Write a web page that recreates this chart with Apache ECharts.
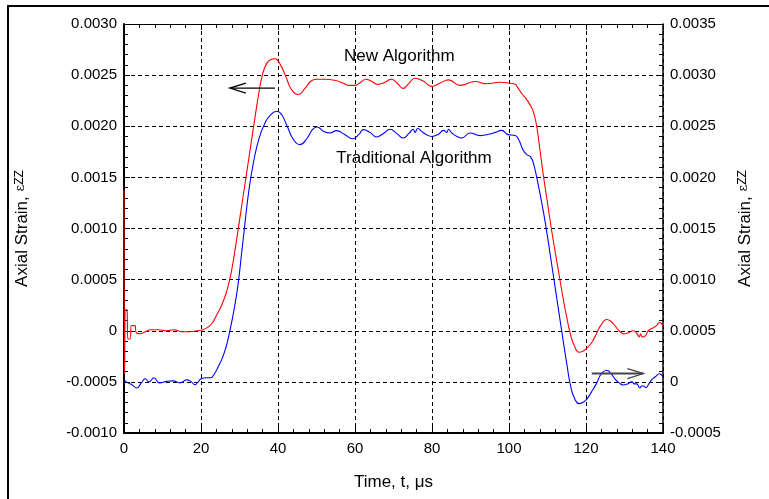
<!DOCTYPE html>
<html>
<head>
<meta charset="utf-8">
<script src="https://cdn.jsdelivr.net/npm/echarts@6/dist/echarts.min.js"></script>
<style>html,body{margin:0;padding:0;background:#fff;}#c{width:769px;height:499px;}</style>
</head>
<body>
<div id="c"></div>
<script>
// Time ticks (µs)
const xTicks = [0, 20, 40, 60, 80, 100, 120, 140];
const leftTicks = [-0.001, -0.0005, 0, 0.0005, 0.001, 0.0015, 0.002, 0.0025, 0.003];
const rightTicks = [-0.0005, 0, 0.0005, 0.001, 0.0015, 0.002, 0.0025, 0.003, 0.0035];

// New Algorithm (left axis): [time, strain]
const newAlgorithm = [
[0,0.00138],[0.15,-0.00042],[0.45,0.00021],[0.8,0.0002],[1.0,-0.00008],[1.6,-0.00008],[1.9,0.00005],[2.8,0.00005],
[3.2,-0.00002],[4.2,-0.00003],[5.5,-0.00001],[7,0.00001],[9,0.00001],[11,0.0],[13,0.00001],[15,-0.00001],[17,-0.00001],
[19,0.0],[20.5,0.00001],[22,0.00004],[23,0.00008],[24,0.00015],[25,0.00022],[26,0.00031],[27,0.00043],[28,0.0006],
[29,0.00083],[30,0.00108],[31,0.00133],[32,0.00158],[33,0.00183],[34,0.00208],[35,0.00232],[36,0.00251],[37,0.00261],
[38,0.00265],[39.2,0.00266],[40.5,0.00261],[42,0.00249],[43.5,0.00236],[45.3,0.00231],[47,0.00237],[48.5,0.00244],
[50,0.00246],[52,0.00246],[55,0.002447],[57,0.00242],[58.5,0.0024],[60,0.0024],[61.5,0.00243],[62.8,0.00246],
[64.3,0.00244],[65.9,0.00241],[67.8,0.00243],[69.4,0.00246],[71,0.00242],[72.5,0.00237],[74,0.00242],[75.6,0.00247],
[77.8,0.00244],[79.9,0.00239],[82,0.00242],[84.3,0.002454],[87.3,0.0024],[91.2,0.002437],[94.2,0.002415],[97.7,0.00243],
[100.3,0.00242],[101.6,0.00241],[102.4,0.00237],[103.3,0.00232],[104.6,0.00226],[105.9,0.00218],[106.5,0.00212],
[107.2,0.002],[108,0.00178],[109,0.0015],[110,0.00125],[111,0.001],[112,0.00077],[113,0.00055],[114,0.00033],
[115,0.00013],[116,-0.00004],[117,-0.00015],[118.2,-0.00021],[119.2,-0.0002],[120.1,-0.000176],[121.2,-0.00013],
[122.3,-0.00006],[123.8,0.00005],[125.4,0.00011],[126.5,0.00009],[127.5,0.00005],[128.6,0.0],[129.7,-0.00003],
[131,-0.00002],[132.3,0.0],[133.3,-0.00003],[133.8,-0.00006],[134.2,-0.00003],[134.6,-0.00006],[135.4,-0.00005],
[136.2,0.0],[137.5,0.00003],[138.3,0.00005],[139.1,0.00008],[140,0.00004]
];

// Traditional Algorithm (right axis): [time, strain]
const traditionalAlgorithm = [
[0,0.00002],[1,-0.00001],[2,-0.000025],[3.3,-0.00006],[4.5,-0.00001],[5.5,0.00003],[6.5,0.0],[7.8,0.00004],[9.2,-0.00001],
[11.1,0.000005],[12.8,0.00001],[14.5,-0.00001],[16.3,0.00002],[17.5,0.0],[18.4,-0.000027],[19.3,0.0],[20,0.00003],
[21.5,0.00004],[22.5,0.00004],[23.5,0.00008],[24.5,0.00015],[25.5,0.00023],[26.5,0.00034],[27.5,0.0005],[28.5,0.00069],
[29.5,0.00092],[30.5,0.00124],[31.5,0.00158],[32.5,0.00189],[33.5,0.00212],[34.5,0.0023],[35.5,0.00243],[36.6,0.00253],
[37.8,0.0026],[39.7,0.002646],[41,0.00261],[42.5,0.00249],[44,0.00237],[45.7,0.00232],[47.5,0.00238],[49,0.00247],
[50.2,0.002493],[51.8,0.00245],[53.5,0.002434],[55.2,0.002457],[57.3,0.00242],[59.4,0.002378],[61,0.00242],[62.2,0.002467],
[63.9,0.00244],[65.6,0.002395],[67.4,0.00243],[69.1,0.00247],[70.8,0.00243],[72.5,0.002385],[74,0.00243],[75.1,0.00247],
[75.6,0.00244],[76.3,0.00248],[77.3,0.00245],[78.5,0.00242],[79.9,0.0024],[81.6,0.00242],[83,0.00246],[83.8,0.00244],
[84.3,0.00247],[85.1,0.002435],[86.5,0.0024],[87.7,0.002385],[89.9,0.002434],[92.5,0.002408],[95.1,0.002424],
[96.5,0.00244],[98.1,0.00246],[99.8,0.002418],[101.6,0.00241],[102.5,0.00237],[103.7,0.002265],[104.7,0.00222],
[105.6,0.0022],[106.4,0.00213],[107.2,0.002],[108,0.00185],[109,0.00165],[110,0.00142],[111,0.00117],[112,0.00092],
[113,0.00067],[114,0.00042],[115,0.00018],[116,-0.00004],[117,-0.00016],[118.2,-0.000213],[119.2,-0.0002],
[120.1,-0.000174],[121.4,-0.0001],[122.7,-0.000017],[124,0.00008],[125.4,0.000114],[126.5,0.00008],[127.5,0.00003],
[128.6,-0.00001],[129.7,-0.00003],[130.8,-0.00002],[131.9,0.0],[132.6,-0.00002],[133.2,-0.00002],[134,-0.00006],
[134.5,-0.00004],[134.9,-0.00004],[135.6,-0.000055],[136.3,-0.00002],[137.1,0.000022],[138,0.00005],[139.1,0.00008],
[140,0.00005]
];

const FONT = '"Liberation Sans", Arial, sans-serif';
function fmt(v){ return v === 0 ? '0' : v.toFixed(4); }

const chart = echarts.init(document.getElementById('c'), null, {renderer:'canvas'});
const titleRich = {
  n: {fontSize:17, fontFamily:FONT, color:'#000', lineHeight:20, verticalAlign:'top'},
  e: {fontSize:13, fontFamily:'"DejaVu Serif", serif', color:'#000', lineHeight:18, verticalAlign:'top'},
  s: {fontSize:12, fontFamily:FONT, color:'#000', lineHeight:30, verticalAlign:'top'}
};
const tickIn = {show:true, inside:true, length:6, lineStyle:{color:'#000', width:1}};
const minorIn = {show:true, splitNumber:5, length:4, lineStyle:{color:'#000', width:1}};
const option = {
  backgroundColor:'#fff',
  animation:false,
  grid:{left:124, right:106, top:24, bottom:66, show:false},
  xAxis:[{
    type:'value', position:'bottom', min:xTicks[0], max:xTicks[xTicks.length-1], interval:20,
    axisLine:{show:true, onZero:false, lineStyle:{color:'#000', width:2}},
    axisTick:tickIn, minorTick:minorIn,
    axisLabel:{color:'#000', fontSize:15, fontFamily:FONT, margin:8, formatter:v=>String(v)},
    splitLine:{show:true, lineStyle:{color:'#000', type:[4,3], width:1}}
  },{
    type:'value', position:'top', min:xTicks[0], max:xTicks[xTicks.length-1], interval:20,
    axisLine:{show:true, onZero:false, lineStyle:{color:'#000', width:1}},
    axisTick:tickIn, minorTick:minorIn,
    axisLabel:{show:false}, splitLine:{show:false}
  }],
  yAxis:[{
    type:'value', position:'left', min:leftTicks[0], max:leftTicks[leftTicks.length-1], interval:0.0005,
    axisLine:{show:true, onZero:false, lineStyle:{color:'#000', width:2}},
    axisTick:tickIn, minorTick:minorIn,
    axisLabel:{color:'#000', fontSize:15, fontFamily:FONT, margin:7, formatter:fmt},
    splitLine:{show:true, lineStyle:{color:'#000', type:[4,3], width:1}}
  },{
    type:'value', position:'right', min:rightTicks[0], max:rightTicks[rightTicks.length-1], interval:0.0005,
    axisLine:{show:true, onZero:false, lineStyle:{color:'#000', width:1.5}},
    axisTick:tickIn, minorTick:minorIn,
    axisLabel:{color:'#000', fontSize:15, fontFamily:FONT, margin:7, formatter:fmt},
    splitLine:{show:false}
  }],
  series:[{
    name:'New Algorithm', type:'line', xAxisIndex:0, yAxisIndex:0, data:newAlgorithm,
    showSymbol:false, smooth:0.5, lineStyle:{color:'#ff0000', width:1.1}, itemStyle:{color:'#ff0000'}, z:3
  },{
    name:'Traditional Algorithm', type:'line', xAxisIndex:0, yAxisIndex:1, data:traditionalAlgorithm,
    showSymbol:false, smooth:0.5, lineStyle:{color:'#0000ff', width:1.1}, itemStyle:{color:'#0000ff'}, z:3
  }]
};
chart.setOption(option);

const pL = (x,y)=>chart.convertToPixel({xAxisIndex:0, yAxisIndex:0}, [x,y]);
const pR = (x,y)=>chart.convertToPixel({xAxisIndex:0, yAxisIndex:1}, [x,y]);
const lt = pL(27.5, 0.002373), lTail = pL(39.2, 0.002373);
const rt = pR(134.9, 0.0000814), rTail = pR(121.5, 0.0000814);
const na = pL(71.5, 0.00268), ta = pL(75.3, 0.001686);
const g = chart.getModel().getComponent('grid').coordinateSystem.getRect();
const cx = g.x + g.width/2, cy = g.y + g.height/2;

chart.setOption({graphic:[
  {type:'rect', shape:{x:8, y:6, width:900, height:700}, style:{fill:'none', stroke:'#000', lineWidth:2}, silent:true, z:0},
  {type:'polyline', shape:{points:[lTail, lt]}, style:{stroke:'#000', lineWidth:1.3, fill:'none'}, z:10},
  {type:'polyline', shape:{points:[[lt[0]+16, lt[1]-5],[lt[0], lt[1]],[lt[0]+16, lt[1]+5]]}, style:{stroke:'#000', lineWidth:1.3, fill:'none'}, z:10},
  {type:'polyline', shape:{points:[rTail, rt]}, style:{stroke:'#444', lineWidth:2, fill:'none'}, z:10},
  {type:'polyline', shape:{points:[[rt[0]-16, rt[1]-5],[rt[0], rt[1]],[rt[0]-16, rt[1]+5]]}, style:{stroke:'#444', lineWidth:1.3, fill:'none'}, z:10},
  {type:'text', x:na[0], y:na[1], style:{text:'New Algorithm', font:'17px '+FONT, fill:'#000', textAlign:'center', textVerticalAlign:'middle'}, z:10},
  {type:'text', x:ta[0], y:ta[1], style:{text:'Traditional Algorithm', font:'17px '+FONT, fill:'#000', textAlign:'center', textVerticalAlign:'middle'}, z:10},
  {type:'text', x:cx, y:482, style:{text:'Time, t, \u03bcs', font:'17px '+FONT, fill:'#000', textAlign:'center', textVerticalAlign:'middle'}, z:10},
  {type:'text', x:29, y:cy, rotation:Math.PI/2, style:{text:'{n|Axial Strain, }{e|\u03b5}{s|ZZ}', rich:titleRich, textAlign:'center', textVerticalAlign:'middle'}, z:10},
  {type:'text', x:752, y:cy, rotation:Math.PI/2, style:{text:'{n|Axial Strain, }{e|\u03b5}{s|ZZ}', rich:titleRich, textAlign:'center', textVerticalAlign:'middle'}, z:10}
]});
</script>
</body>
</html>
